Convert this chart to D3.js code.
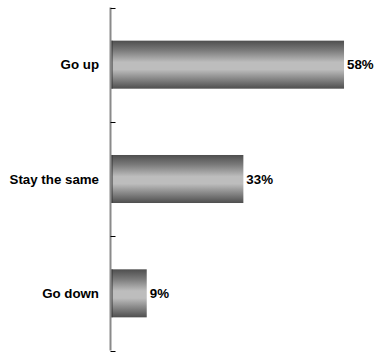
<!DOCTYPE html>
<html>
<head>
<meta charset="utf-8">
<script src="https://cdn.jsdelivr.net/npm/d3@7"></script>
<style>
  html, body { margin: 0; padding: 0; background: #fff; }
  svg { display: block; }
  text { font-family: "Liberation Sans", Arial, sans-serif; font-weight: bold; font-size: 13.3px; fill: #000; }
</style>
</head>
<body>
<svg id="chart" width="376" height="352"></svg>
<script>
// Survey answers and their shares (%)
const categories = ["Go up", "Stay the same", "Go down"];
const values = [58, 33, 9];
const valueLabels = ["58%", "33%", "9%"];

const svg = d3.select("#chart");
const axisX = 110.5;
const plotTop = 7.5, plotBottom = 350.5;

const y = d3.scaleBand().domain(categories).range([plotTop, plotBottom]).paddingInner(0.58).paddingOuter(0.29);
const x = d3.scaleLinear().domain([0, 65]).range([axisX, 372.2]);

// Metallic vertical gradient for the bars
const defs = svg.append("defs");
const grad = defs.append("linearGradient").attr("id", "barGrad")
  .attr("x1", 0).attr("y1", 0).attr("x2", 0).attr("y2", 1);
[[0, "#4e4e4e"], [0.2, "#7a7a7a"], [0.45, "#bdbdbd"], [0.6, "#bdbdbd"], [0.82, "#808080"], [1, "#4e4e4e"]]
  .forEach(([o, c]) => grad.append("stop").attr("offset", o).attr("stop-color", c));

// Bars
svg.selectAll("rect.bar").data(categories).join("rect")
  .attr("class", "bar")
  .attr("x", axisX)
  .attr("y", d => y(d))
  .attr("width", (d, i) => x(values[i]) - axisX)
  .attr("height", y.bandwidth())
  .attr("fill", "url(#barGrad)");

// Dark left edge of each bar
svg.selectAll("line.edge").data(categories).join("line")
  .attr("class", "edge")
  .attr("x1", axisX + 1.5).attr("x2", axisX + 1.5)
  .attr("y1", d => y(d)).attr("y2", d => y(d) + y.bandwidth())
  .attr("stroke", "#333").attr("stroke-width", 1);

// Category axis: gray line with tick marks at band boundaries
const boundaries = categories.map(d => y(d) - y.step() * y.paddingInner() / 2);
svg.append("line")
  .attr("x1", axisX).attr("x2", axisX).attr("y1", plotTop).attr("y2", plotBottom)
  .attr("stroke", "#8a8a8a").attr("stroke-width", 2);
svg.selectAll("line.tick").data([plotTop, ...boundaries.slice(1), plotBottom]).join("line")
  .attr("class", "tick")
  .attr("x1", axisX).attr("x2", axisX + 5)
  .attr("y1", d => Math.round(d) + 0.5).attr("y2", d => Math.round(d) + 0.5)
  .attr("stroke", "#000").attr("stroke-width", 1);

// Category labels
svg.selectAll("text.cat").data(categories).join("text")
  .attr("class", "cat")
  .attr("x", 99)
  .attr("y", d => y(d) + y.bandwidth() / 2)
  .attr("dy", "0.35em")
  .attr("text-anchor", "end")
  .text(d => d);

// Value labels
svg.selectAll("text.val").data(categories).join("text")
  .attr("class", "val")
  .attr("x", (d, i) => x(values[i]) + 3)
  .attr("y", d => y(d) + y.bandwidth() / 2)
  .attr("dy", "0.35em")
  .text((d, i) => valueLabels[i]);
</script>
</body>
</html>
